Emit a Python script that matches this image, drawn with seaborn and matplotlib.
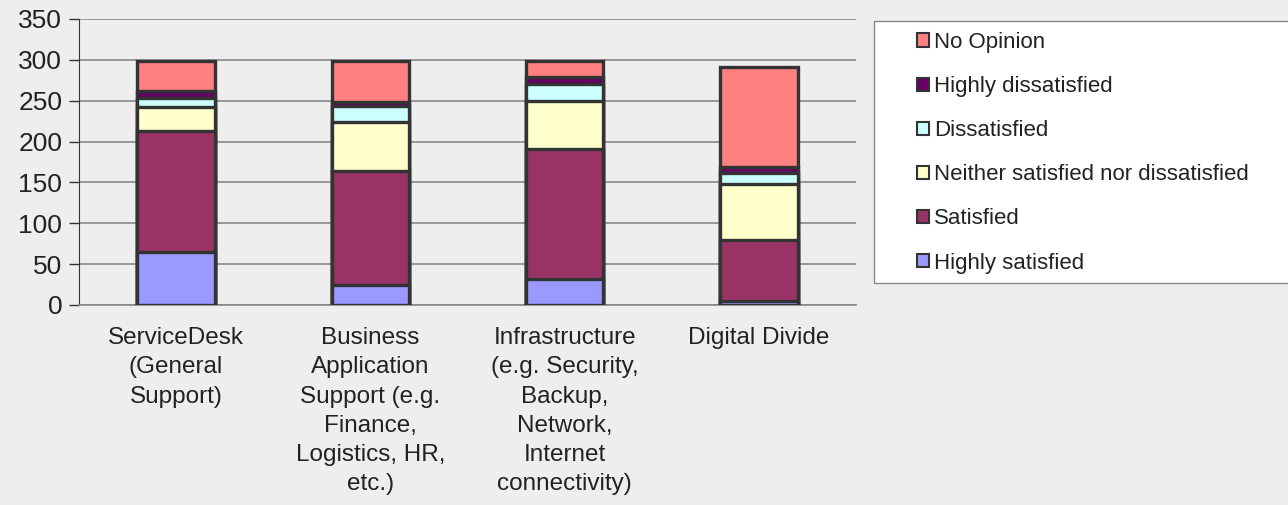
import numpy as np
import pandas as pd
import matplotlib
matplotlib.use('Agg')
import matplotlib.pyplot as plt
from matplotlib.patches import Patch, Rectangle
import seaborn as sns

# data
categories = ['ServiceDesk\n(General\nSupport)',
              'Business\nApplication\nSupport (e.g.\nFinance,\nLogistics, HR,\netc.)',
              'Infrastructure\n(e.g. Security,\nBackup,\nNetwork,\nInternet\nconnectivity)',
              'Digital Divide']
series = ['Highly satisfied', 'Satisfied', 'Neither satisfied nor dissatisfied',
          'Dissatisfied', 'Highly dissatisfied', 'No Opinion']
highly_satisfied = [65, 24, 32, 5]
satisfied = [148, 140, 159, 74]
neither = [29, 60, 59, 69]
dissatisfied = [11, 19, 20, 13]
highly_dissatisfied = [9, 6, 9, 8]
no_opinion = [37, 50, 19, 122]
colors = ['#9999FF', '#993366', '#FFFFCC', '#CCFFFF', '#660066', '#FF8080']

values = [highly_satisfied, satisfied, neither, dissatisfied, highly_dissatisfied, no_opinion]
df = pd.DataFrame(dict(zip(series, values)), index=categories)
cum = df.cumsum(axis=1)

sns.set_style('white')
plt.rcParams['font.family'] = ['Liberation Sans', 'DejaVu Sans']

W, H = 1288, 505
fig = plt.figure(figsize=(W / 100, H / 100), dpi=100, facecolor='#EEEEEE')
ax = fig.add_axes([79 / W, 1 - 305 / H, (856 - 79) / W, (305 - 19) / H])
ax.set_facecolor('#EEEEEE')

# draw from the top of the stack down so each segment shows
for s, c in reversed(list(zip(series, colors))):
    sns.barplot(x=list(range(len(categories))), y=cum[s].values, color=c,
                width=0.4, edgecolor='#333333', linewidth=2.4, ax=ax,
                saturation=1, zorder=3)

ax.set_ylim(0, 350)
ax.set_xlim(-0.5, len(categories) - 0.5)
ax.set_yticks(np.arange(0, 351, 50))
ax.yaxis.grid(True, color='#888888', linewidth=1.2, zorder=0)
ax.set_axisbelow(True)
ax.set_xticks(range(len(categories)))
ax.set_xticklabels(categories, fontsize=17.5, color='#222222', linespacing=1.42)
ax.set_xticks(np.arange(-0.5, len(categories)), minor=True)
ax.tick_params(axis='x', which='major', length=0, pad=16)
ax.tick_params(axis='x', which='minor', length=7, width=1, color='#333333', direction='out')
ax.tick_params(axis='y', labelsize=19, labelcolor='#222222', length=7, width=1,
               color='#333333', direction='out', left=True, pad=5)
for side in ['top', 'right']:
    ax.spines[side].set_visible(False)
ax.spines['left'].set_color('#333333')
ax.spines['bottom'].set_color('#888888')
ax.spines['bottom'].set_linewidth(1.2)
ax.set_xlabel('')
ax.set_ylabel('')

# legend box
fig.patches.append(Rectangle((874 / W, 1 - 283 / H), (W - 874) / W + 0.01, (283 - 21) / H,
                             transform=fig.transFigure, facecolor='white',
                             edgecolor='#888888', linewidth=1, zorder=0))
handles = [Patch(facecolor=c, edgecolor='#333333', linewidth=1.5, label=s)
           for s, c in zip(series, colors)][::-1]
leg = fig.legend(handles=handles, loc='upper left', bbox_to_anchor=(917 / W, 1 - 32 / H),
                 fontsize=16, frameon=False,
                 handlelength=0.55, handleheight=0.55, handletextpad=0.2,
                 labelspacing=1.04, borderpad=0, borderaxespad=0)
for t in leg.get_texts():
    t.set_color('#222222')

fig.savefig('out.png', dpi=100, facecolor=fig.get_facecolor())
